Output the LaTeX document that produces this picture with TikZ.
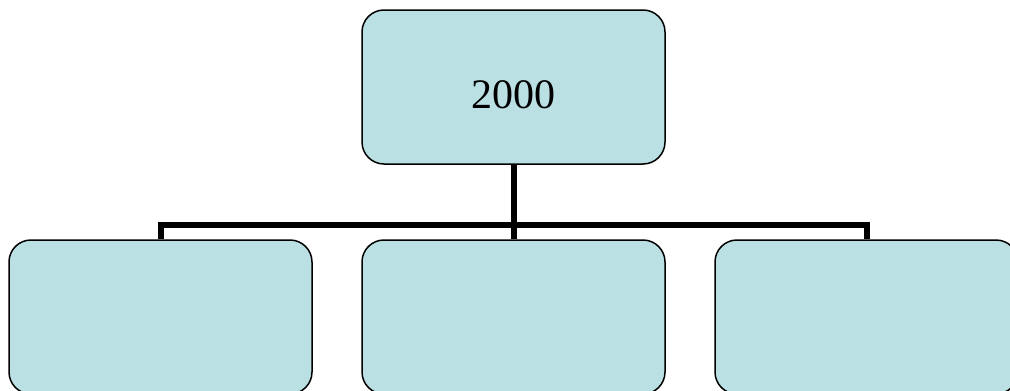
\documentclass[tikz,border=0pt]{standalone}
\usepackage{fontspec}
\setmainfont{Liberation Serif}
\usepackage{tikz}
\definecolor{boxfill}{HTML}{BBE0E3}
\tikzset{
  orgbox/.style={draw, line width=1.5pt, fill=boxfill, rounded corners=22pt,
    minimum width=303pt, minimum height=154pt, inner sep=0pt, font=\fontsize{42}{50}\selectfont},
  orgline/.style={line width=6pt}
}

\begin{document}
\begin{tikzpicture}[x=1pt, y=-1pt]
        \clip (0,0) rectangle (1010,391);
        \useasboundingbox (0,0) rectangle (1010,391);
        \coordinate (bar) at (513.5,225);
        \node[orgbox] (top) at (513.5,87) {\raisebox{-21pt}[0pt][0pt]{2000}};
        \node[orgbox] (left) at (160.5,317) {};
        \node[orgbox] (mid) at (513.5,317) {};
        \node[orgbox] (right) at (866.5,317) {};
        \draw[orgline] (top.south) -- (mid.north);
        \draw[orgline] (left.north) |- (bar) -| (right.north);
    \end{tikzpicture}
\end{document}
